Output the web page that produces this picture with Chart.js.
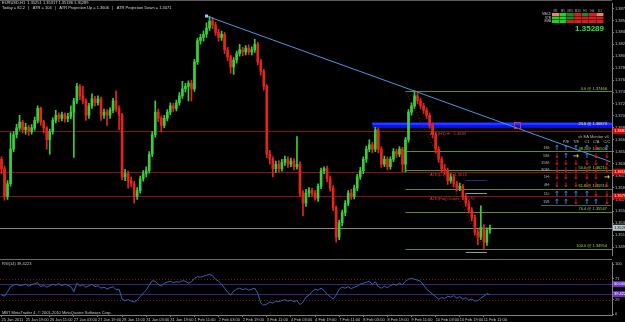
<!DOCTYPE html>
<html>
<head>
<meta charset="utf-8">
<script src="https://cdn.jsdelivr.net/npm/chart.js@4.4.0/dist/chart.umd.min.js"></script>
<style>
html,body{margin:0;padding:0;background:#000;}
#wrap{position:relative;width:625px;height:322px;overflow:hidden;background:#000;}
canvas{position:absolute;left:0;}
#priceChart{top:0;}
#rsiChart{top:259px;}
</style>
</head>
<body>
<div id="wrap">
<canvas id="priceChart" width="625" height="259"></canvas>
<canvas id="rsiChart" width="625" height="63"></canvas>
</div>
<script>
// EURUSD candles (2h steps)
const timeTicks = ['25 Jan 2011','25 Jan 19:00','26 Jan 11:00','27 Jan 03:00','27 Jan 19:00','28 Jan 11:00',
  '31 Jan 03:00','31 Jan 19:00','1 Feb 11:00','2 Feb 03:00','2 Feb 19:00','3 Feb 11:00','4 Feb 03:00',
  '4 Feb 19:00','7 Feb 11:00','8 Feb 03:00','8 Feb 19:00','9 Feb 11:00','10 Feb 03:00','10 Feb 19:00','11 Feb 11:00'];
const barsPerTick = 8;
const emptySlotsRight = 40;

const firstOpen = 1.3638;
const closes = [1.3623,1.3579,1.3599,1.3654,1.3677,1.3688,1.3697,1.3685,1.3689,1.3682,
 1.3688,1.3700,1.3719,1.3697,1.3688,1.3669,1.3682,1.3700,1.3708,1.3703,
 1.3709,1.3703,1.3706,1.3713,1.3731,1.3754,1.3739,1.3731,1.3708,1.3723,
 1.3734,1.3728,1.3734,1.3708,1.3713,1.3708,1.3716,1.3731,1.3719,1.3708,
 1.3610,1.3615,1.3604,1.3599,1.3579,1.3588,1.3607,1.3615,1.3620,1.3646,
 1.3677,1.3713,1.3703,1.3692,1.3703,1.3713,1.3723,1.3719,1.3728,1.3739,
 1.3750,1.3754,1.3759,1.3750,1.3793,1.3827,1.3832,1.3837,1.3847,1.3858,
 1.3852,1.3840,1.3832,1.3837,1.3812,1.3801,1.3785,1.3796,1.3806,1.3812,
 1.3809,1.3815,1.3809,1.3812,1.3821,1.3793,1.3778,1.3754,1.3646,1.3638,
 1.3623,1.3630,1.3623,1.3633,1.3638,1.3630,1.3635,1.3626,1.3630,1.3584,
 1.3568,1.3584,1.3588,1.3584,1.3576,1.3595,1.3620,1.3623,1.3607,1.3592,
 1.3561,1.3514,1.3537,1.3553,1.3568,1.3584,1.3579,1.3592,1.3610,1.3620,
 1.3638,1.3654,1.3661,1.3654,1.3685,1.3654,1.3630,1.3638,1.3626,1.3638,
 1.3650,1.3646,1.3654,1.3630,1.3669,1.3713,1.3723,1.3739,1.3731,1.3723,
 1.3716,1.3708,1.3692,1.3677,1.3654,1.3638,1.3623,1.3620,1.3604,1.3610,
 1.3599,1.3592,1.3595,1.3579,1.3568,1.3557,1.3545,1.3522,1.3514,1.3530,
 1.3506,1.3525,1.3529];
const highs = [1.3642,1.3627,1.3604,1.3680,1.3682,1.3694,1.3708,1.3700,1.3695,1.3692,
 1.3693,1.3705,1.3723,1.3721,1.3700,1.3690,1.3686,1.3704,1.3716,1.3712,
 1.3713,1.3712,1.3711,1.3723,1.3735,1.3759,1.3757,1.3754,1.3734,1.3727,
 1.3742,1.3738,1.3739,1.3737,1.3718,1.3717,1.3720,1.3735,1.3747,1.3723,
 1.3711,1.3622,1.3619,1.3610,1.3603,1.3593,1.3611,1.3620,1.3626,1.3650,
 1.3682,1.3731,1.3718,1.3707,1.3708,1.3717,1.3728,1.3727,1.3732,1.3744,
 1.3762,1.3759,1.3763,1.3764,1.3797,1.3831,1.3837,1.3842,1.3855,1.3866,
 1.3864,1.3856,1.3845,1.3842,1.3840,1.3816,1.3804,1.3800,1.3810,1.3821,
 1.3816,1.3819,1.3820,1.3817,1.3829,1.3824,1.3797,1.3781,1.3757,1.3652,
 1.3642,1.3635,1.3636,1.3638,1.3643,1.3642,1.3640,1.3639,1.3674,1.3634,
 1.3588,1.3590,1.3593,1.3592,1.3588,1.3599,1.3624,1.3626,1.3627,1.3611,
 1.3596,1.3564,1.3541,1.3557,1.3572,1.3588,1.3590,1.3597,1.3614,1.3625,
 1.3642,1.3659,1.3669,1.3665,1.3689,1.3688,1.3658,1.3643,1.3642,1.3642,
 1.3655,1.3654,1.3658,1.3657,1.3673,1.3717,1.3728,1.3747,1.3743,1.3735,
 1.3727,1.3720,1.3712,1.3696,1.3680,1.3658,1.3642,1.3630,1.3624,1.3615,
 1.3614,1.3603,1.3600,1.3598,1.3583,1.3572,1.3561,1.3549,1.3526,1.3564,
 1.3534,1.3529,1.3533];
const lows = [1.3615,1.3573,1.3574,1.3595,1.3650,1.3672,1.3684,1.3680,1.3678,1.3676,
 1.3678,1.3684,1.3696,1.3692,1.3680,1.3654,1.3646,1.3678,1.3696,1.3698,
 1.3699,1.3697,1.3698,1.3702,1.3641,1.3727,1.3733,1.3726,1.3700,1.3703,
 1.3719,1.3723,1.3724,1.3700,1.3703,1.3692,1.3703,1.3712,1.3714,1.3685,
 1.3605,1.3604,1.3592,1.3594,1.3568,1.3574,1.3584,1.3603,1.3610,1.3616,
 1.3642,1.3673,1.3698,1.3682,1.3688,1.3699,1.3709,1.3714,1.3715,1.3724,
 1.3735,1.3745,1.3731,1.3731,1.3746,1.3789,1.3821,1.3826,1.3832,1.3843,
 1.3846,1.3835,1.3826,1.3827,1.3806,1.3795,1.3775,1.3773,1.3791,1.3802,
 1.3803,1.3804,1.3805,1.3804,1.3808,1.3788,1.3772,1.3748,1.3640,1.3630,
 1.3610,1.3617,1.3618,1.3619,1.3628,1.3625,1.3626,1.3621,1.3622,1.3579,
 1.3548,1.3563,1.3578,1.3579,1.3573,1.3571,1.3591,1.3615,1.3602,1.3587,
 1.3556,1.3506,1.3510,1.3532,1.3548,1.3564,1.3574,1.3575,1.3588,1.3606,
 1.3615,1.3633,1.3650,1.3648,1.3650,1.3648,1.3625,1.3626,1.3621,1.3622,
 1.3634,1.3641,1.3642,1.3618,1.3618,1.3665,1.3708,1.3719,1.3726,1.3718,
 1.3711,1.3703,1.3687,1.3672,1.3648,1.3633,1.3617,1.3614,1.3598,1.3600,
 1.3594,1.3587,1.3588,1.3574,1.3563,1.3552,1.3540,1.3517,1.3502,1.3510,
 1.3495,1.3501,1.3520];
const rsiValues = [38,36,45,55,58,60,57,58,60,56,
 59,61,63,55,58,54,57,60,58,61,
 57,60,58,55,45,62,56,59,54,57,
 60,55,57,52,54,50,53,55,49,50,
 30,27,29,26,24,28,35,42,48,58,
 67,66,60,56,62,64,66,63,65,64,
 67,66,62,65,72,75,74,76,78,80,
 77,70,66,60,52,44,38,46,50,52,
 49,51,48,50,52,42,22,18,20,24,
 22,26,25,27,29,26,28,25,27,19,
 24,34,38,45,50,48,52,47,40,35,
 30,38,50,54,52,55,51,54,56,60,
 62,64,66,60,65,55,52,56,53,57,
 60,58,62,59,66,70,72,70,68,66,
 58,50,45,40,35,30,33,31,36,34,
 37,32,35,30,33,28,30,26,27,32,
 36,41,39];

const priceTicks = [1.3878,1.3859,1.3840,1.3821,1.3802,1.3783,1.3764,1.3745,1.3726,1.3707,1.3688,
  1.3669,1.3650,1.3631,1.3612,1.3593,1.3574,1.3555,1.3536,1.3517,1.3498];
const priceMin = 1.34846, priceMax = 1.38861;
const rsiTicks = [100, 71, 29, 0];
const rsiDotted = [71, 29];
const rsiLevels = [60, 40];
const rsiLevelText = ['60.0000', '39.4223'];

const srLevels = [1.3683, 1.3618, 1.3579];
const atrTexts = ['ATR(H1) Hi : 1.3683', 'ATR(D1) Lo : 1.3618', 'ATR(Proj) Down : 1.3579'];
const lastPrice = 1.35289;
const zoneTop = 1.3697, zoneBottom = 1.3688, zoneStart = 123;
const fibRatios = ['0.0','23.6','38.2','50.0','61.8','76.4','100.0'];
const fibPrices = [1.37466,1.36873,1.36506,1.36210,1.35914,1.35547,1.34954];
const fibBars = [134, 160];
const trendBars = [68, 202];
const trendPrices = [1.3866, 1.3634];
const crossBar = 171, crossPrice = 1.3693;
const markerPrices = [1.3605, 1.3584, 1.3490];
const markerBars = [154, 161];

// top right signal grid
const tfCols = ['M1','M5','M15','M30','H1','H4','D1'];
const sigRows = ['MACD','STR','EMA'];
const sigCells = ['rGgRgRr', 'GGgRRRR', 'GGRRRRR'];
// monitor arrows
const monCols = ['', 'P/E', 'T/E', 'C1', 'C/A', 'C/C'];
const monRows = ['1M:','5M:','15M:','30M:','1H:','4H:','1D:','1W:'];
const monCells = ['uuuudu', 'durudd', 'dddddd', 'dddddd', 'dddddr', 'dddddd', 'uuuudd', 'uuduud'];

const slots = [];
for (let i = 0; i < closes.length + emptySlotsRight; i++) {
  slots.push(i % barsPerTick === 0 && timeTicks[i / barsPerTick] ? timeTicks[i / barsPerTick] : '');
}
const opens = closes.map((c, i) => i === 0 ? firstOpen : closes[i - 1]);
const upCol = '#3ccc3c', downCol = '#e2261e';
const candleCols = closes.map((c, i) => c >= opens[i] ? upCol : downCol);

Chart.defaults.font.family = 'Liberation Sans';
Chart.defaults.color = '#c8c8c8';

function hline(ctx, x1, x2, py) {
  ctx.beginPath(); ctx.moveTo(x1, py); ctx.lineTo(x2, py); ctx.stroke();
}
function crisp(v) { return Math.round(v) + 0.5; }

const priceOverlay = {
  id: 'priceOverlay',
  beforeDatasetsDraw(chart) {
    const {ctx, chartArea: a, scales: {x, y}} = chart;
    ctx.save();
    ctx.lineWidth = 1;
    // blue zone
    const zx = x.getPixelForValue(zoneStart);
    const zt = y.getPixelForValue(zoneTop), zb = y.getPixelForValue(zoneBottom);
    ctx.fillStyle = '#0a12f2';
    ctx.fillRect(zx, zt, a.right - zx, zb - zt);
    ctx.fillStyle = '#2f4cff';
    ctx.fillRect(zx, zt + 1, a.right - zx, 1.5);
    // support / resistance lines
    ctx.strokeStyle = '#861414';
    srLevels.forEach(p => hline(ctx, a.left, a.right, crisp(y.getPixelForValue(p))));
    // fibo levels
    ctx.strokeStyle = '#5d8c2c';
    const fx = x.getPixelForValue(fibBars[0]);
    fibPrices.forEach((p, i) => { if (i !== 1) hline(ctx, fx, a.right, crisp(y.getPixelForValue(p))); });
    // bid line
    ctx.strokeStyle = '#8a8a8a';
    hline(ctx, a.left, a.right, crisp(y.getPixelForValue(lastPrice)));
    // small markers
    const m1 = x.getPixelForValue(markerBars[0]), m2 = x.getPixelForValue(markerBars[1]);
    ['#2a2a7a', '#9a9a9a', '#9a9a9a'].forEach((c, i) => {
      ctx.strokeStyle = c;
      hline(ctx, m1, m2, crisp(y.getPixelForValue(markerPrices[i])));
    });
    ctx.restore();
  },
  afterDatasetsDraw(chart) {
    const {ctx, scales: {x, y}} = chart;
    ctx.save();
    // fibo base (dotted)
    ctx.strokeStyle = '#a02020';
    ctx.setLineDash([1, 2]);
    ctx.beginPath();
    ctx.moveTo(x.getPixelForValue(fibBars[0]), y.getPixelForValue(fibPrices[0]));
    ctx.lineTo(x.getPixelForValue(fibBars[1]), y.getPixelForValue(fibPrices[6]));
    ctx.stroke();
    ctx.setLineDash([]);
    // trend line
    ctx.strokeStyle = '#4f94e8';
    ctx.lineWidth = 1;
    const tx1 = x.getPixelForValue(trendBars[0]), ty1 = y.getPixelForValue(trendPrices[0]);
    ctx.beginPath();
    ctx.moveTo(tx1, ty1);
    ctx.lineTo(x.getPixelForValue(trendBars[1]), y.getPixelForValue(trendPrices[1]));
    ctx.stroke();
    ctx.fillStyle = '#9cc8ff';
    ctx.fillRect(tx1 - 1.5, ty1 - 1.5, 3, 3);
    // crossing mark
    ctx.strokeStyle = '#d03060';
    ctx.strokeRect(crisp(x.getPixelForValue(crossBar)) - 3, crisp(y.getPixelForValue(crossPrice)) - 3, 6, 6);
    ctx.restore();
  },
  afterDraw(chart) {
    const {ctx, chartArea: a, scales: {y}} = chart;
    ctx.save();
    ctx.strokeStyle = '#5a5a5a';
    hline(ctx, a.left, a.right, 0.5);
    // header text
    ctx.font = '4px Liberation Sans';
    ctx.fillStyle = '#d8d8d8';
    ctx.textBaseline = 'middle';
    ctx.textAlign = 'left';
    ctx.fillText('EURUSD,H1  1.35251 1.35317 1.35186 1.35289', 2, 3);
    ctx.fillText('Today = 82.2   |   ATR = 104   |   ATR Projection Up = 1.3606   |   ATR Projection Down = 1.3471', 2, 7.5);
    // signal grid
    ctx.font = '3px Liberation Sans';
    ctx.fillStyle = '#a8a8a8';
    ctx.textAlign = 'center';
    tfCols.forEach((t, j) => ctx.fillText(t, 555.5 + j * 7.4, 11));
    const cellCol = {G: '#23d023', g: '#1c8a1c', R: '#d81e1e', r: '#f08070'};
    sigRows.forEach((r, i) => {
      const ry = 13 + i * 3.5;
      ctx.fillStyle = '#c0c0c0';
      ctx.textAlign = 'right';
      ctx.fillText(r, 551, ry + 1.5);
      [...sigCells[i]].forEach((c, j) => {
        ctx.fillStyle = cellCol[c];
        ctx.fillRect(552 + j * 7.4, ry, 7, 3);
      });
    });
    ctx.font = 'bold 8px Liberation Sans';
    ctx.fillStyle = '#3fe03f';
    ctx.textAlign = 'right';
    ctx.fillText(lastPrice.toFixed(5), 604, 28.5);
    // fibo labels
    ctx.font = '4px Liberation Sans';
    fibPrices.forEach((p, i) => {
      ctx.fillStyle = i === 1 ? '#dfe6ff' : '#a8d040';
      ctx.fillText(fibRatios[i] + ' @ ' + p.toFixed(5), 607, y.getPixelForValue(p) - (i === 1 ? 4 : 2.5));
    });
    // atr labels
    ctx.fillStyle = '#c04848';
    ctx.textAlign = 'left';
    srLevels.forEach((p, i) => ctx.fillText(atrTexts[i], 430, y.getPixelForValue(p) + 3));
    // monitor table
    ctx.fillStyle = '#b4b4b4';
    ctx.fillText('s/r EA Monitor v4', 578, 137);
    ctx.textAlign = 'center';
    const monX = [557, 566, 576, 587, 596, 607];
    monCols.forEach((c, j) => ctx.fillText(c, monX[j], 142));
    const monY = [148, 156, 163, 170, 177, 185, 194, 202];
    const arrows = {u: ['\u2191', '#3b8ff0'], d: ['\u2193', '#f01a1a'], r: ['\u2192', '#f0e010']};
    monRows.forEach((r, i) => {
      ctx.font = '4px Liberation Sans';
      ctx.fillStyle = '#b4b4b4';
      ctx.textAlign = 'right';
      ctx.fillText(r, 550, monY[i]);
      ctx.font = 'bold 7px DejaVu Sans';
      ctx.textAlign = 'center';
      [...monCells[i]].forEach((c, j) => {
        ctx.fillStyle = arrows[c][1];
        ctx.fillText(arrows[c][0], monX[j], monY[i]);
      });
    });
    ctx.strokeStyle = '#5a5a5a';
    hline(ctx, 541, 611, 205.5);
    // axis price boxes
    ctx.font = '4px Liberation Sans';
    ctx.textAlign = 'left';
    srLevels.forEach(p => {
      const py = y.getPixelForValue(p);
      ctx.fillStyle = '#e00000';
      ctx.fillRect(a.right + 1, py - 3, 13, 6);
      ctx.fillStyle = '#ffffff';
      ctx.fillText(p.toFixed(5), a.right + 2, py);
    });
    const bp = y.getPixelForValue(lastPrice);
    ctx.fillStyle = '#b8cccc';
    ctx.fillRect(a.right + 1, bp - 3, 13, 6);
    ctx.fillStyle = '#000';
    ctx.fillText(lastPrice.toFixed(5), a.right + 2, bp);
    ctx.restore();
  }
};

new Chart(document.getElementById('priceChart'), {
  type: 'bar',
  data: {
    labels: slots,
    datasets: [
      {data: opens.map((o, i) => [o, closes[i]]), backgroundColor: candleCols, barThickness: 2,
        minBarLength: 1, grouped: false, order: 0},
      {data: lows.map((l, i) => [l, highs[i]]), backgroundColor: candleCols, barThickness: 1,
        grouped: false, order: 1}
    ]
  },
  options: {
    responsive: false,
    animation: false,
    layout: {padding: 0},
    plugins: {legend: {display: false}, tooltip: {enabled: false}},
    scales: {
      x: {display: false, offset: true},
      y: {
        position: 'right', min: priceMin, max: priceMax,
        afterFit: s => { s.width = 13; },
        afterBuildTicks: s => { s.ticks = priceTicks.map(v => ({value: v})); },
        ticks: {font: {size: 4}, color: '#c0c0c0', padding: 1, callback: v => v.toFixed(5)},
        grid: {drawOnChartArea: false, tickLength: 2, color: '#808080'},
        border: {color: '#808080'}
      }
    }
  },
  plugins: [priceOverlay]
});

const rsiOverlay = {
  id: 'rsiOverlay',
  beforeDatasetsDraw(chart) {
    const {ctx, chartArea: a, scales: {y}} = chart;
    ctx.save();
    ctx.lineWidth = 1;
    ctx.strokeStyle = '#6a6a6a';
    hline(ctx, a.left, a.right, 0.5);
    ctx.strokeStyle = '#7a1818';
    ctx.setLineDash([1, 2]);
    rsiDotted.forEach(v => hline(ctx, a.left, a.right, crisp(y.getPixelForValue(v))));
    ctx.setLineDash([]);
    ctx.strokeStyle = '#3e2478';
    rsiLevels.forEach(v => hline(ctx, a.left, a.right, crisp(y.getPixelForValue(v))));
    ctx.restore();
  },
  afterDraw(chart) {
    const {ctx, chartArea: a, scales: {y}} = chart;
    ctx.save();
    ctx.font = '4px Liberation Sans';
    ctx.fillStyle = '#c8c8c8';
    ctx.textBaseline = 'middle';
    ctx.fillText('RSI(14) 39.4223', 2, 5);
    ctx.fillText('MBT MetaTrader 4, \u00a9 2001-2010 MetaQuotes Software Corp.', 2, 53.5);
    rsiLevels.forEach((v, i) => {
      const py = y.getPixelForValue(v);
      ctx.fillStyle = '#6a34c0';
      ctx.fillRect(a.right + 1, py - 3, 13, 6);
      ctx.fillStyle = '#ffffff';
      ctx.fillText(rsiLevelText[i], a.right + 2, py);
    });
    ctx.restore();
  }
};

new Chart(document.getElementById('rsiChart'), {
  type: 'line',
  data: {
    labels: slots,
    datasets: [{data: rsiValues, borderColor: '#3d62aa', borderWidth: 1, pointRadius: 0, tension: 0}]
  },
  options: {
    responsive: false,
    animation: false,
    layout: {padding: 0},
    plugins: {legend: {display: false}, tooltip: {enabled: false}},
    scales: {
      x: {
        offset: true,
        afterFit: s => { s.height = 7; },
        ticks: {autoSkip: false, maxRotation: 0, align: 'start', padding: 0, font: {size: 4}, color: '#c8c8c8',
          callback: (v, i) => slots[i]},
        grid: {drawOnChartArea: false, tickLength: 2, color: c => slots[c.index] ? '#808080' : 'rgba(0,0,0,0)'},
        border: {color: '#808080'}
      },
      y: {
        position: 'right', min: -1.9, max: 103.8,
        afterFit: s => { s.width = 13; },
        afterBuildTicks: s => { s.ticks = rsiTicks.map(v => ({value: v})); },
        ticks: {font: {size: 4}, color: '#c0c0c0', padding: 1},
        grid: {drawOnChartArea: false, tickLength: 2, color: '#808080'},
        border: {color: '#808080'}
      }
    }
  },
  plugins: [rsiOverlay]
});
</script>
</body>
</html>
